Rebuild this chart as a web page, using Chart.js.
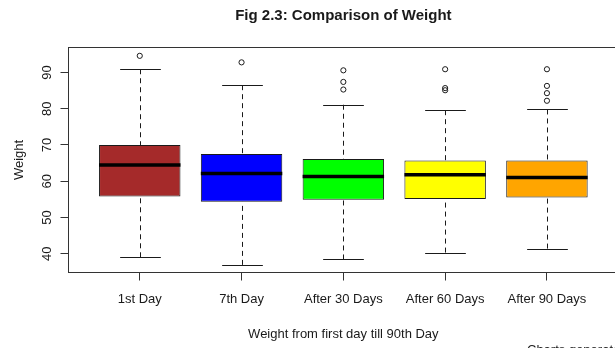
<!DOCTYPE html>
<html>
<head>
<meta charset="utf-8">
<script src="https://cdn.jsdelivr.net/npm/chart.js@4.4.1/dist/chart.umd.min.js"></script>
<style>
  html, body { margin: 0; padding: 0; background: #fff; overflow: hidden; }
  #wrap { width: 630px; height: 348px; }
</style>
</head>
<body>
<div id="wrap"><canvas id="chart" width="630" height="348"></canvas></div>
<script>
// boxplot stats
const labels = ["1st Day", "7th Day", "After 30 Days", "After 60 Days", "After 90 Days"];
const lowWhisker = [39.0, 36.9, 38.4, 40.3, 41.4];
const q1 = [55.8, 54.3, 54.9, 55.1, 55.5];
const medians = [64.5, 62.1, 61.3, 61.8, 61.0];
const q3 = [70.0, 67.5, 66.1, 65.7, 65.7];
const highWhisker = [90.9, 86.5, 81.1, 79.6, 79.8];
const outliers = [
    [94.6],
    [92.8],
    [90.6, 87.4, 85.3],
    [90.9, 85.7, 85.1],
    [90.9, 86.3, 84.3, 82.2]
];
const boxColors = ["#A52A2A", "#0000FF", "#00FF00", "#FFFF00", "#FFA500"];
const yTicks = [40, 50, 60, 70, 80, 90];

const FONT = '"Liberation Sans", Arial, sans-serif';
const INK = "#1a1a1a";

let outlierPoints = [];
outliers.forEach((list, i) => {
    list.forEach(v => outlierPoints.push({ x: i + 1, y: v }));
});

// whiskers, staples, medians, frame and the R-style text
const boxPlot = {
    id: "boxPlot",
    beforeDatasetsDraw(chart) {
        let ctx = chart.ctx;
        let x = chart.scales.x, y = chart.scales.y;
        let half = x.getPixelForValue(1.2) - x.getPixelForValue(1);
        ctx.save();
        ctx.strokeStyle = INK;
        ctx.lineWidth = 1;
        labels.forEach((l, i) => {
            let cx = Math.round(x.getPixelForValue(i + 1)) + 0.5;
            ctx.setLineDash([5, 4]);
            ctx.beginPath();
            ctx.moveTo(cx, y.getPixelForValue(highWhisker[i]));
            ctx.lineTo(cx, y.getPixelForValue(q3[i]));
            ctx.moveTo(cx, y.getPixelForValue(lowWhisker[i]));
            ctx.lineTo(cx, y.getPixelForValue(q1[i]));
            ctx.stroke();
            ctx.setLineDash([]);
            ctx.beginPath();
            let hy = Math.round(y.getPixelForValue(highWhisker[i])) + 0.5;
            let ly = Math.round(y.getPixelForValue(lowWhisker[i])) + 0.5;
            ctx.moveTo(cx - half, hy);
            ctx.lineTo(cx + half, hy);
            ctx.moveTo(cx - half, ly);
            ctx.lineTo(cx + half, ly);
            ctx.stroke();
        });
        ctx.restore();
    },
    afterDatasetsDraw(chart) {
        let ctx = chart.ctx;
        let x = chart.scales.x, y = chart.scales.y;
        let half = x.getPixelForValue(1.4) - x.getPixelForValue(1);
        ctx.save();
        ctx.strokeStyle = "#000";
        ctx.lineWidth = 3.5;
        labels.forEach((l, i) => {
            let cx = x.getPixelForValue(i + 1);
            let my = y.getPixelForValue(medians[i]);
            ctx.beginPath();
            ctx.moveTo(cx - half, my);
            ctx.lineTo(cx + half, my);
            ctx.stroke();
        });
        ctx.restore();
    },
    afterDraw(chart) {
        let ctx = chart.ctx;
        let a = chart.chartArea;
        let y = chart.scales.y;
        let mid = (a.left + a.right) / 2;
        ctx.save();
        ctx.strokeStyle = "#333";
        ctx.lineWidth = 1;
        ctx.strokeRect(a.left, a.top, a.right - a.left, a.bottom - a.top);

        ctx.fillStyle = INK;
        ctx.textAlign = "center";
        ctx.textBaseline = "alphabetic";
        ctx.font = "bold 15px " + FONT;
        ctx.fillText("Fig 2.3: Comparison of Weight", mid, 19.5);

        ctx.font = "13px " + FONT;
        ctx.fillText("Weight from first day till 90th Day", mid, 338);

        // y tick labels, rotated like R's las = 0
        y.ticks.forEach(t => {
            ctx.save();
            ctx.translate(50.5, y.getPixelForValue(t.value));
            ctx.rotate(-Math.PI / 2);
            ctx.fillText(String(t.value), 0, 0);
            ctx.restore();
        });

        ctx.save();
        ctx.translate(23, (a.top + a.bottom) / 2);
        ctx.rotate(-Math.PI / 2);
        ctx.fillText("Weight", 0, 0);
        ctx.restore();

        ctx.textAlign = "left";
        ctx.fillText("Charts generated", 527, 354);
        ctx.restore();
    }
};

new Chart(document.getElementById("chart"), {
    type: "bar",
    data: {
        datasets: [
            {
                type: "bar",
                data: labels.map((l, i) => ({ x: i + 1, y: [q1[i], q3[i]] })),
                backgroundColor: boxColors,
                borderColor: INK,
                borderWidth: 1,
                borderSkipped: false,
                barPercentage: 0.8,
                categoryPercentage: 1.0
            },
            {
                type: "scatter",
                data: outlierPoints,
                pointStyle: "circle",
                pointRadius: 2.6,
                pointBorderWidth: 1,
                pointBorderColor: INK,
                pointBackgroundColor: "rgba(0,0,0,0)"
            }
        ]
    },
    options: {
        responsive: false,
        animation: false,
        events: [],
        layout: { padding: { top: 47.5, left: 0, right: 11.8, bottom: 0 } },
        plugins: { legend: { display: false }, tooltip: { enabled: false }, title: { display: false } },
        scales: {
            x: {
                type: "linear",
                min: 0.3,
                max: 5.7,
                offset: false,
                afterBuildTicks: s => { s.ticks = labels.map((l, i) => ({ value: i + 1 })); },
                afterFit: s => { s.height = 75.5; },
                grid: { offset: false, drawOnChartArea: false, drawTicks: true, tickLength: 8, tickColor: "#333" },
                border: { display: false },
                ticks: {
                    callback: (v, i) => labels[i],
                    padding: 11,
                    color: INK,
                    font: { family: FONT, size: 13 },
                    maxRotation: 0,
                    autoSkip: false
                }
            },
            y: {
                type: "linear",
                min: 34.8,
                max: 96.9,
                afterBuildTicks: s => { s.ticks = yTicks.map(v => ({ value: v })); },
                afterFit: s => { s.width = 68.5; },
                grid: { drawOnChartArea: false, drawTicks: true, tickLength: 8, tickColor: "#333" },
                border: { display: false },
                ticks: { display: false }
            }
        }
    },
    plugins: [boxPlot]
});
</script>
</body>
</html>
